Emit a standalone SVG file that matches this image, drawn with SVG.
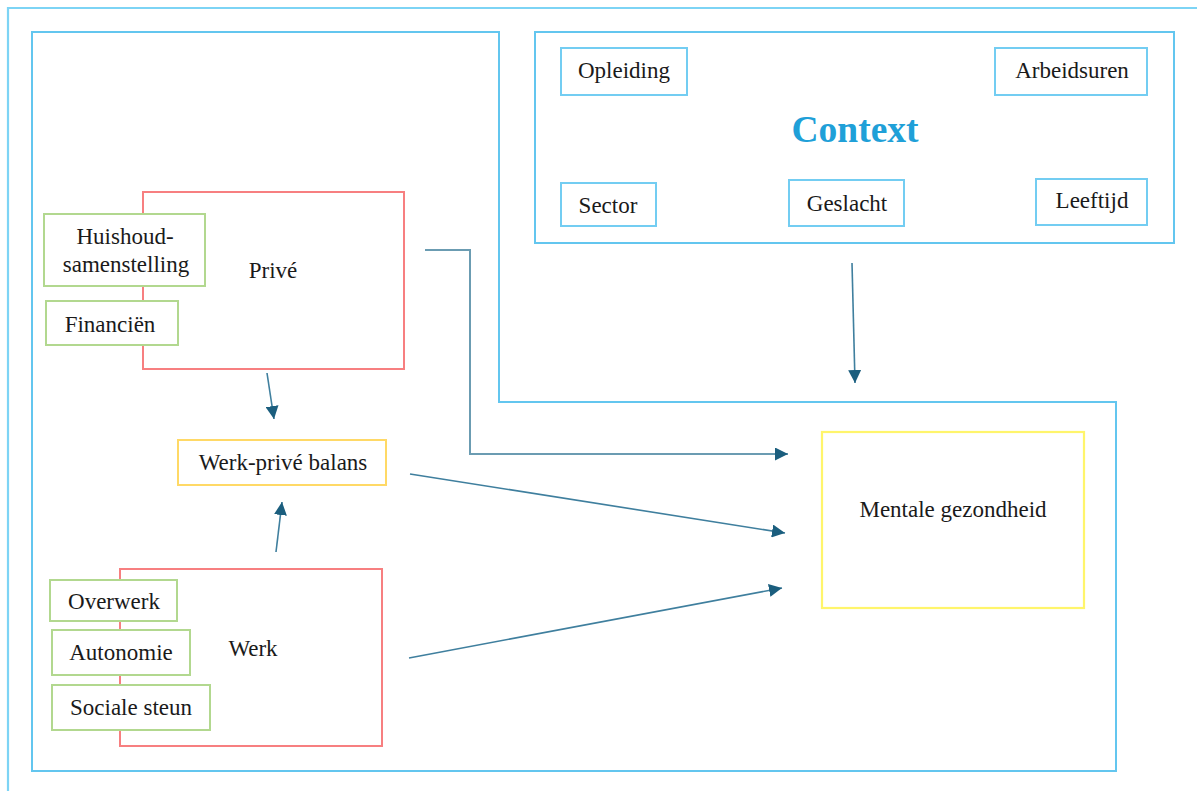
<svg xmlns="http://www.w3.org/2000/svg" width="1197" height="791" viewBox="0 0 1197 791">
<defs>
<style>
.frame{fill:none;stroke:#7dd4f5;stroke-width:2.2}
.ctx{fill:none;stroke:#63c6ef;stroke-width:2}
.cbox{fill:#fff;stroke:#73cdf2;stroke-width:2}
.red{fill:#fff;stroke:#f77f80;stroke-width:2}
.green{fill:#fff;stroke:#b2d88f;stroke-width:2}
.ywp{fill:#fff;stroke:#ffd966;stroke-width:2}
.ymg{fill:#fff;stroke:#fff56b;stroke-width:2.2}
text{font-family:"Liberation Serif","Times New Roman",serif;font-size:23px;fill:#1a1a1a;text-anchor:middle}
.title{font-weight:bold;font-size:37.5px;fill:#1fa0d8}
.con{fill:none;stroke:#3f7f9e;stroke-width:1.6}
.con2{fill:none;stroke:#6b9cb2;stroke-width:2}
</style>
<marker id="ah" viewBox="0 0 12 12" refX="12" refY="6" markerWidth="13" markerHeight="13" markerUnits="userSpaceOnUse" orient="auto">
<path d="M0,0 L12,6 L0,12 Z" fill="#1b5e7e"/>
</marker>
</defs>
<rect width="1197" height="791" fill="#fff"/>
<g id="frames">
<path class="frame" d="M8,800 V8 H1200"/>
<path class="ctx" d="M32,32 H499 V402 H1116 V771 H32 Z"/>
</g>
<g id="context">
<rect class="ctx" x="535" y="32" width="639" height="211"/>
<text class="title" x="855" y="142">Context</text>
</g>
<g id="opleiding"><rect class="cbox" x="561" y="48" width="126" height="47"/><text x="624" y="78">Opleiding</text></g>
<g id="arbeidsuren"><rect class="cbox" x="995" y="48" width="152" height="47"/><text x="1072" y="78">Arbeidsuren</text></g>
<g id="sector"><rect class="cbox" x="561" y="183" width="95" height="43"/><text x="608" y="213">Sector</text></g>
<g id="geslacht"><rect class="cbox" x="789" y="180" width="115" height="46"/><text x="847" y="211">Geslacht</text></g>
<g id="leeftijd"><rect class="cbox" x="1036" y="179" width="111" height="46"/><text x="1092" y="208">Leeftijd</text></g>
<g id="prive"><rect class="red" x="143" y="192" width="261" height="177"/><text x="273" y="278">Privé</text></g>
<g id="huishoud"><rect class="green" x="44" y="214" width="161" height="72"/><text x="125" y="244">Huishoud-</text><text x="126" y="272">samenstelling</text></g>
<g id="financien"><rect class="green" x="46" y="301" width="132" height="44"/><text x="110" y="332">Financiën</text></g>
<g id="werkprive"><rect class="ywp" x="178" y="440" width="208" height="45"/><text x="283" y="470">Werk-privé balans</text></g>
<g id="werk"><rect class="red" x="120" y="569" width="262" height="177"/><text x="253" y="656">Werk</text></g>
<g id="overwerk"><rect class="green" x="50" y="580" width="127" height="41"/><text x="114" y="609">Overwerk</text></g>
<g id="autonomie"><rect class="green" x="52" y="630" width="138" height="45"/><text x="121" y="660">Autonomie</text></g>
<g id="sociale"><rect class="green" x="52" y="685" width="158" height="45"/><text x="131" y="715">Sociale steun</text></g>
<g id="mentale"><rect class="ymg" x="822" y="432" width="262" height="176"/><text x="953" y="517">Mentale gezondheid</text></g>
<g id="connectors">
<line class="con" x1="852" y1="263" x2="855" y2="383" marker-end="url(#ah)"/>
<line class="con" x1="267" y1="373" x2="274" y2="419" marker-end="url(#ah)"/>
<line class="con" x1="276" y1="552" x2="282" y2="502" marker-end="url(#ah)"/>
<polyline class="con2" points="425,250 470,250 470,454 788,454" marker-end="url(#ah)"/>
<line class="con" x1="410" y1="474" x2="785" y2="533" marker-end="url(#ah)"/>
<line class="con" x1="409" y1="658" x2="782" y2="588" marker-end="url(#ah)"/>
</g>
</svg>
